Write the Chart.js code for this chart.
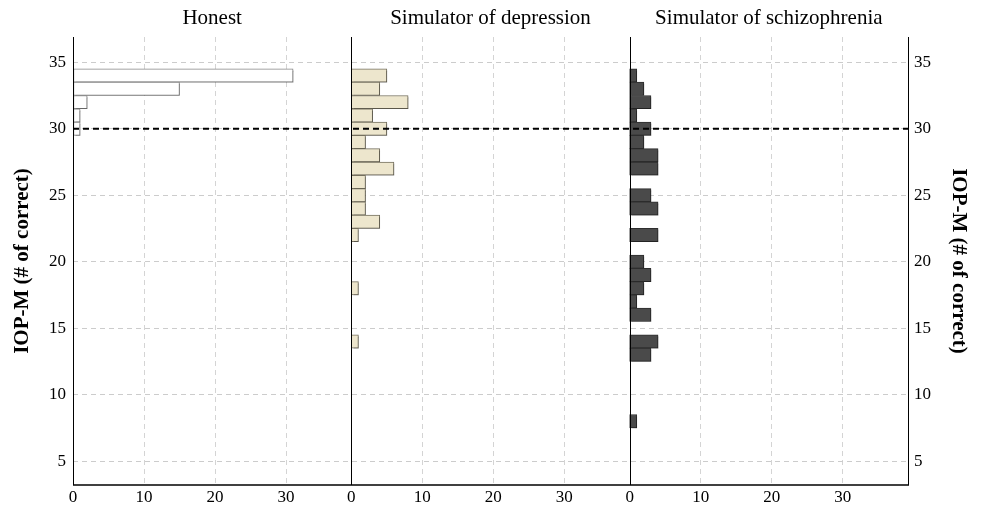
<!DOCTYPE html>
<html>
<head>
<meta charset="utf-8">
<script src="https://cdn.jsdelivr.net/npm/chart.js@4.4.0/dist/chart.umd.min.js"></script>
<style>body{margin:0;background:#fff}</style>
</head>
<body>
<canvas id="mycanvas" width="981" height="508"></canvas>
<script>
// panels and histogram data (score -> number of participants)
var panels = ['Honest', 'Simulator of depression', 'Simulator of schizophrenia'];
var honestScores = [34, 33, 32, 31, 30];
var honestCounts = [31, 15, 2, 1, 1];
var depScores = [34, 33, 32, 31, 30, 29, 28, 27, 26, 25, 24, 23, 22, 18, 14];
var depCounts = [5, 4, 8, 3, 5, 2, 4, 6, 2, 2, 2, 4, 1, 1, 1];
var schScores = [34, 33, 32, 31, 30, 29, 28, 27, 25, 24, 22, 20, 19, 18, 17, 16, 14, 13, 8];
var schCounts = [1, 2, 3, 1, 3, 2, 4, 4, 3, 4, 4, 2, 3, 2, 1, 3, 4, 3, 1];
var countTicks = [0, 10, 20, 30];
var scoreTicks = [5, 10, 15, 20, 25, 30, 35];
var cutoff = 30;

var W = 39.2; // width of one panel, in counts

Chart.defaults.font.family = '"Liberation Serif", "Times New Roman", serif';
Chart.defaults.color = '#000';

function bars(scores, counts, panel) {
  var off = panel * W;
  var out = [];
  for (var i = 0; i < scores.length; i++) {
    out.push({ y: scores[i], x: [off, off + counts[i]] });
  }
  return out;
}

var xTickValues = [];
for (var p = 0; p < 3; p++) {
  for (var t = 0; t < countTicks.length; t++) xTickValues.push(p * W + countTicks[t]);
}

var panelLines = {
  id: 'panelLines',
  beforeDatasetsDraw: function(chart) {
    var ctx = chart.ctx;
    ctx.save();
    ctx.shadowColor = 'rgba(0,0,0,0.22)';
    ctx.shadowOffsetX = 2;
    ctx.shadowOffsetY = 1.5;
    ctx.shadowBlur = 0;
  },
  afterDatasetsDraw: function(chart) {
    var ctx = chart.ctx;
    ctx.restore();
    var a = chart.chartArea;
    var x = chart.scales.x, y = chart.scales.y;
    ctx.save();
    ctx.strokeStyle = '#000';
    ctx.lineWidth = 1;
    [0, W, 2 * W].forEach(function(v) {
      var px = Math.round(x.getPixelForValue(v)) + 0.5;
      ctx.beginPath(); ctx.moveTo(px, a.top); ctx.lineTo(px, a.bottom); ctx.stroke();
    });
    var rx = Math.round(a.right) + 0.5;
    ctx.beginPath(); ctx.moveTo(rx, a.top); ctx.lineTo(rx, a.bottom); ctx.stroke();
    ctx.lineWidth = 1.5;
    ctx.beginPath(); ctx.moveTo(a.left, a.bottom); ctx.lineTo(a.right + 1, a.bottom); ctx.stroke();
    // cutoff line
    var py = y.getPixelForValue(cutoff);
    ctx.lineWidth = 2;
    ctx.setLineDash([6, 4]);
    ctx.beginPath(); ctx.moveTo(a.left, py); ctx.lineTo(a.right, py); ctx.stroke();
    ctx.restore();
  }
};

var ctx = document.getElementById('mycanvas');
var chart = new Chart(ctx, {
  type: 'bar',
  data: {
    datasets: [
      { label: panels[0], data: bars(honestScores, honestCounts, 0),
        backgroundColor: '#ffffff', borderColor: '#858585', borderWidth: 1 },
      { label: panels[1], data: bars(depScores, depCounts, 1),
        backgroundColor: '#ede6cd', borderColor: '#75705f', borderWidth: 1 },
      { label: panels[2], data: bars(schScores, schCounts, 2),
        backgroundColor: '#4a4a4a', borderColor: '#2e2e2e', borderWidth: 1 }
    ]
  },
  options: {
    indexAxis: 'y',
    responsive: false,
    animation: false,
    devicePixelRatio: 1,
    layout: { padding: 0 },
    datasets: { bar: { grouped: false, barPercentage: 1, categoryPercentage: 1, borderSkipped: false } },
    plugins: { legend: { display: false }, tooltip: { enabled: false } },
    scales: {
      x: {
        type: 'linear', position: 'bottom', min: 0, max: 3 * W,
        afterBuildTicks: function(s) { s.ticks = xTickValues.map(function(v) { return { value: v }; }); },
        afterFit: function(s) { s.height = 23; },
        ticks: {
          autoSkip: false, maxRotation: 0, padding: 2, font: { size: 17 },
          callback: function(v) { return String(Math.round(v - Math.floor((v + 0.01) / W) * W)); }
        },
        grid: {
          drawTicks: false, lineWidth: 1,
          color: function(c) {
            var v = c.tick ? c.tick.value : 0;
            var r = v - Math.floor((v + 0.01) / W) * W;
            return r < 0.5 ? 'rgba(0,0,0,0)' : '#d4d4d4';
          }
        },
        border: { display: false, dash: [5, 4] }
      },
      xt: {
        type: 'linear', position: 'top', min: 0, max: 3 * W,
        afterBuildTicks: function(s) { s.ticks = [0.5, 1.5, 2.5].map(function(k) { return { value: k * W }; }); },
        afterFit: function(s) { s.height = 37; },
        ticks: {
          autoSkip: false, maxRotation: 0, padding: 6, font: { size: 21 },
          callback: function(v) { return panels[Math.floor(v / W)]; }
        },
        grid: { display: false, drawTicks: false },
        border: { display: false }
      },
      y: {
        type: 'linear', position: 'left', min: 3.2, max: 36.9, offset: false,
        afterBuildTicks: function(s) { s.ticks = scoreTicks.map(function(v) { return { value: v }; }); },
        afterFit: function(s) { s.width = 73; },
        ticks: { padding: 7, font: { size: 17 } },
        grid: { offset: false, drawTicks: false, color: '#cccccc', lineWidth: 1 },
        border: { display: false, dash: [5, 4] },
        title: { display: true, text: 'IOP-M (# of correct)', font: { size: 21, weight: 'bold' }, padding: { top: 10, bottom: 0 } }
      },
      y2: {
        type: 'linear', position: 'right', min: 3.2, max: 36.9, offset: false,
        afterBuildTicks: function(s) { s.ticks = scoreTicks.map(function(v) { return { value: v }; }); },
        afterFit: function(s) { s.width = 73; },
        ticks: { padding: 6, font: { size: 17 } },
        grid: { display: false, drawTicks: false },
        border: { display: false },
        title: { display: true, text: 'IOP-M (# of correct)', font: { size: 21, weight: 'bold' }, padding: { top: 10, bottom: 0 } }
      }
    }
  },
  plugins: [panelLines]
});
</script>
</body>
</html>
